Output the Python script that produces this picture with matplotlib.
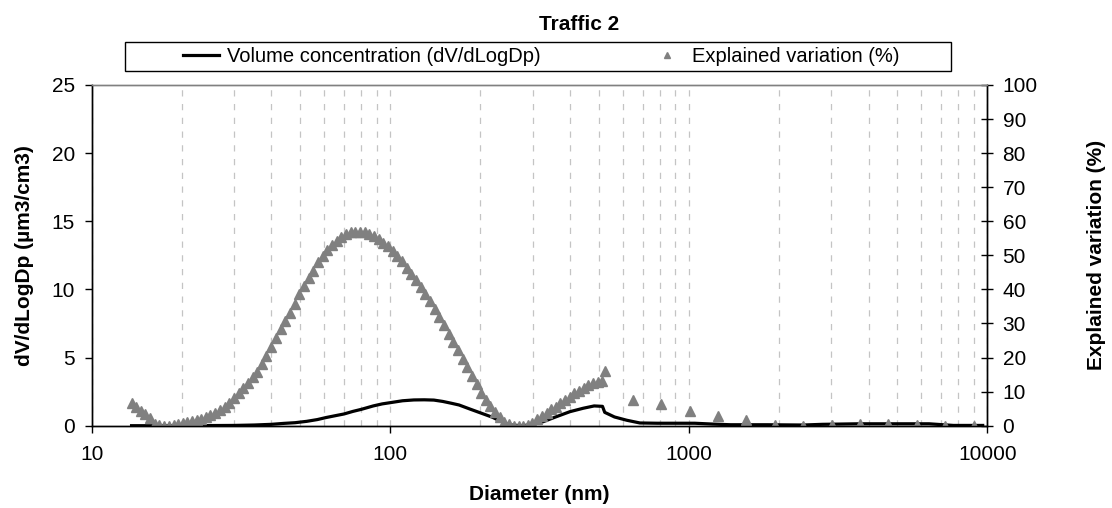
import matplotlib

matplotlib.use("Agg")
import matplotlib.pyplot as plt
from matplotlib.lines import Line2D
from matplotlib.patches import Rectangle
from matplotlib.ticker import FixedLocator, LogLocator, NullFormatter

# ---- data
# SMPS size bins (nm) and explained variation (%)
smps_diam = [
    13.6, 14.1, 14.6, 15.1, 15.7, 16.3, 16.8, 17.5, 18.1, 18.8,
    19.5, 20.2, 20.9, 21.7, 22.5, 23.3, 24.1, 25.0, 25.9, 26.9,
    27.9, 28.9, 30.0, 31.1, 32.2, 33.4, 34.6, 35.9, 37.2, 38.5,
    40.0, 41.4, 42.9, 44.5, 46.1, 47.8, 49.6, 51.4, 53.3, 55.2,
    57.3, 59.4, 61.5, 63.8, 66.1, 68.5, 71.0, 73.7, 76.4, 79.1,
    82.0, 85.1, 88.2, 91.4, 94.7, 98.2, 101.8, 105.5, 109.4, 113.4,
    117.6, 121.9, 126.3, 131.0, 135.8, 140.7, 145.9, 151.2, 156.8, 162.5,
    168.5, 174.7, 181.1, 187.7, 194.6, 201.7, 209.1, 216.7, 224.7, 232.9,
    241.4, 250.3, 259.5, 269.0, 278.8, 289.0, 299.6, 310.6, 322.0, 333.8,
    346.0, 358.7, 371.8, 385.4, 399.5, 414.2, 429.4, 445.1, 461.4, 478.3,
    495.8, 514.0,
]
smps_ev = [
    6.8, 5.6, 4.4, 3.4, 2.2, 0.6, 0.1, 0.0, 0.0, 0.2,
    0.5, 0.8, 1.0, 1.3, 1.6, 2.0, 2.5, 3.1, 3.8, 4.7,
    5.5, 6.8, 8.1, 9.6, 11.0, 12.4, 14.2, 15.9, 18.1, 20.6,
    23.2, 25.7, 28.3, 30.8, 33.0, 35.7, 38.6, 41.0, 43.3, 45.5,
    48.0, 49.8, 51.5, 53.0, 54.3, 55.5, 56.3, 56.8, 57.0, 57.0,
    56.8, 56.3, 55.6, 54.7, 53.7, 52.6, 51.3, 49.9, 48.4, 46.2,
    44.5, 42.8, 40.6, 38.7, 36.7, 34.2, 32.0, 29.6, 26.9, 24.7,
    22.2, 19.5, 17.1, 14.6, 12.2, 9.7, 7.5, 5.8, 4.1, 2.6,
    1.2, 0.5, 0.0, 0.0, 0.0, 0.3, 0.9, 1.9, 2.8, 3.8,
    4.8, 5.6, 6.6, 7.5, 8.5, 9.5, 10.3, 11.2, 11.9, 12.6,
    12.9, 13.1,
]
# APS size bins (nm) and explained variation (%)
aps_diam = [523, 649, 808, 1006, 1252, 1559, 1941, 2416, 3008, 3745, 4662, 5804, 7226, 8996]
aps_ev = [16.1, 7.4, 6.3, 4.4, 2.8, 1.7, 0.3, 0.0, 0.3, 0.5, 0.5, 0.3, 0.0, 0.0]

# volume concentration dV/dLogDp (um3/cm3)
vol_diam = [
    13.6, 20, 30, 35, 40, 44, 48, 52.5, 57, 61, 66, 70, 75, 80, 87.7, 94,
    100, 110, 120, 130, 140, 150, 160, 170, 185, 200, 220, 238, 254, 274,
    294, 326, 360, 400, 443, 482, 514, 523, 564, 620, 686, 785, 1047, 1200,
    1380, 1830, 2420, 2800, 3690, 4850, 6380, 7000, 7700, 9650,
]
vol_conc = [
    0.0, 0.0, 0.02, 0.05, 0.1, 0.17, 0.22, 0.32, 0.45, 0.6, 0.75, 0.86, 1.05, 1.2, 1.45, 1.6,
    1.69, 1.83, 1.89, 1.9, 1.88, 1.78, 1.65, 1.52, 1.22, 0.95, 0.62, 0.25, 0.05, 0.0,
    0.05, 0.3, 0.66, 1.03, 1.28, 1.45, 1.42, 0.98, 0.64, 0.4, 0.2, 0.18, 0.18, 0.12,
    0.07, 0.07, 0.05, 0.1, 0.14, 0.14, 0.14, 0.08, 0.02, 0.02,
]

W, H = 1112, 508
FONT = "Liberation Sans"
plt.rcParams.update({"font.family": [FONT, "DejaVu Sans"], "font.size": 15})

fig = plt.figure(figsize=(W / 100, H / 100), dpi=100)
# plot area in pixels: x 91.7..987.3, y 85..425.7
ax = fig.add_axes([91.7 / W, 1 - 425.7 / H, (987.3 - 91.7) / W, (425.7 - 85) / H])
ax2 = ax.twinx()

ax.plot(vol_diam, vol_conc, color="black", lw=2.3, solid_joinstyle="round")
ax2.plot(smps_diam, smps_ev, ls="none", marker="^", ms=6.5, color="#808080", mec="#808080")
ax2.plot(aps_diam, aps_ev, ls="none", marker="^", ms=6.5, color="#808080", mec="#808080")

ax.set_xscale("log")
ax.set_xlim(10, 10000)
ax.set_ylim(0, 25)
ax2.set_ylim(0, 100)
ax.set_yticks(range(0, 26, 5))
ax2.set_yticks(range(0, 101, 10))
ax.xaxis.set_major_locator(FixedLocator([10, 100, 1000, 10000]))
ax.set_xticklabels(["10", "100", "1000", "10000"])
ax.xaxis.set_minor_locator(LogLocator(base=10, subs=range(2, 10)))
ax.xaxis.set_minor_formatter(NullFormatter())

ax.grid(True, axis="x", which="both", color="#c4c4c4", lw=0.9, ls=(0, (5, 6)))
ax.tick_params(axis="x", which="minor", length=0)
ax.tick_params(axis="x", which="major", direction="out", length=5, width=1, pad=9, labelsize=15)
ax.tick_params(axis="y", direction="out", length=5, width=1, pad=7, labelsize=15)
ax2.tick_params(axis="y", direction="inout", length=8, width=1, pad=7, labelsize=15)

for a in (ax, ax2):
    a.spines["top"].set_color("#808080")
    a.spines["top"].set_linewidth(1)
    for s in ("left", "right", "bottom"):
        a.spines[s].set_color("black")
        a.spines[s].set_linewidth(1)

ax.set_xlabel("Diameter (nm)", fontsize=15, fontweight="bold")
ax.xaxis.set_label_coords(0.5, -0.175)
ax.set_ylabel("dV/dLogDp (µm3/cm3)", fontsize=15, fontweight="bold")
ax.yaxis.set_label_coords(-0.064, 0.5)
ax2.set_ylabel("Explained variation (%)", fontsize=15, fontweight="bold")
ax2.yaxis.set_label_coords(1.111, 0.5)

fig.text(579 / W, 1 - 25 / H, "Traffic 2", ha="center", va="center",
         fontsize=15, fontweight="bold")

# legend above the plot, framed by a plain rectangle
handles = [
    Line2D([], [], color="black", lw=2.3),
    Line2D([], [], ls="none", marker="^", ms=5, color="#808080"),
]
labels = ["Volume concentration (dV/dLogDp)", "Explained variation (%)"]
fig.legend(handles, labels, loc="center", bbox_to_anchor=(541.5 / W, 1 - 56.5 / H),
           ncol=2, frameon=False, fontsize=14.5, handlelength=1.75,
           handletextpad=0.4, columnspacing=5.4, borderpad=0.2)
fig.add_artist(Rectangle((125 / W, 1 - 71 / H), (951 - 125) / W, 29 / H,
                         transform=fig.transFigure, fill=False, ec="black", lw=1))

fig.savefig("out.png", dpi=100)
